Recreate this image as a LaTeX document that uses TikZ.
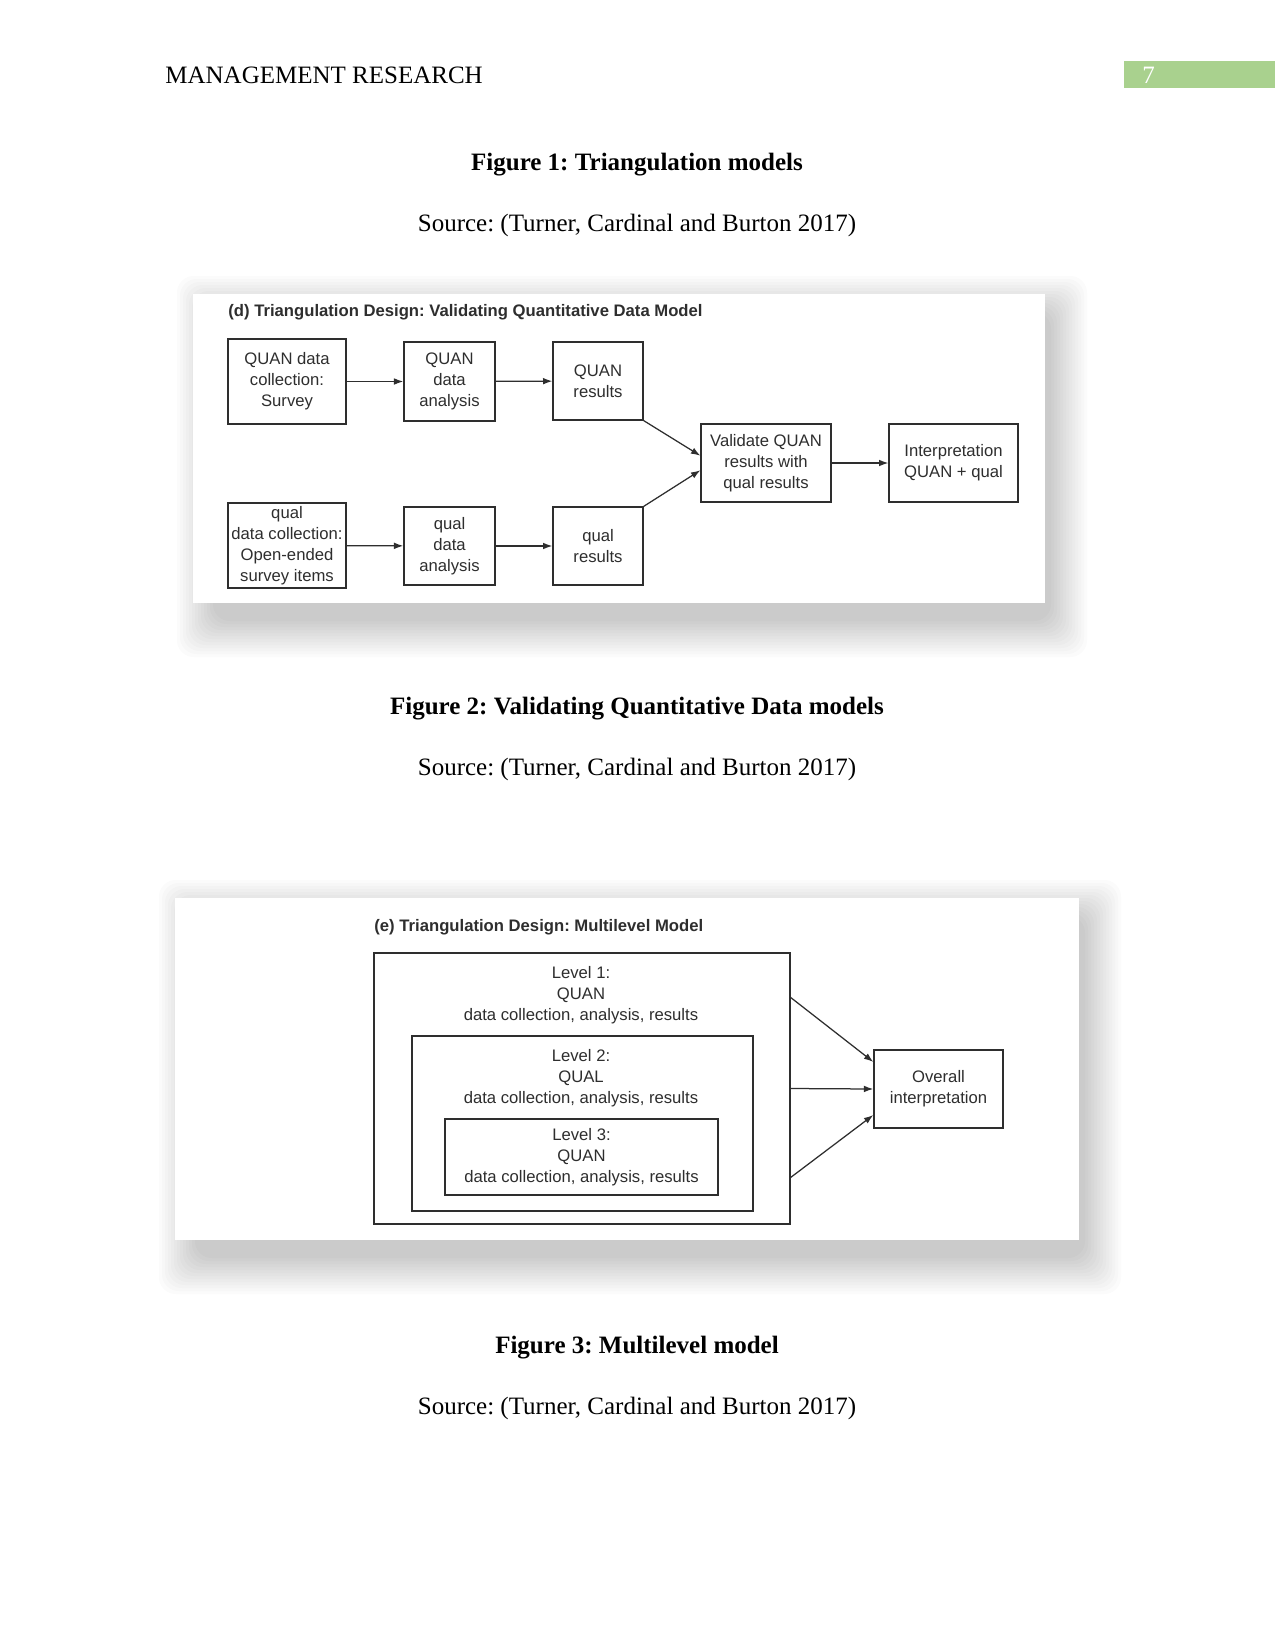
\documentclass[tikz,border=0pt]{standalone}
\usepackage{fontspec}
\setmainfont{Liberation Serif}
\newfontfamily\diagfont{Liberation Sans}
\usepackage{xcolor}
\usetikzlibrary{positioning, arrows.meta}
\definecolor{headgreen}{HTML}{A9D18E}
\definecolor{ink}{HTML}{2E2E2E}
\frenchspacing

\begin{document}
\begin{tikzpicture}[
  x=0.48pt, y=-0.48pt,
  >={Latex[length=4.5pt, width=3.2pt]},
  pagetext/.style={font=\fontsize{12}{14}\selectfont, inner sep=0pt},
  captext/.style={font=\fontsize{12}{14}\selectfont\bfseries, inner sep=0pt},
  paneltitle/.style={font=\diagfont\fontsize{8}{10}\selectfont\bfseries,
    text=ink, anchor=west, inner sep=0pt},
  stepbox/.style={draw=ink, line width=0.6pt, align=center, text=ink,
    font=\diagfont\fontsize{8}{10}\selectfont, inner sep=0pt},
  levelbox/.style={draw=ink, line width=0.6pt},
  leveltext/.style={align=center, text=ink,
    font=\diagfont\fontsize{8}{10}\selectfont, inner sep=0pt},
  arrow/.style={->, draw=ink, line width=0.6pt},
  shadelayer/.style={fill=black, opacity=0.016, rounded corners=8pt},
]
\useasboundingbox[fill=white] (0,0) rectangle (1275,1651);

% ===== PAGE HEADER =====
\node[pagetext, anchor=west] (runhead) at (165,75) {MANAGEMENT RESEARCH};
\node[fill=headgreen, minimum width=72.5pt, minimum height=13pt,
  inner sep=0pt] (pagebox) at (1199.5,74.5) {};
\node[pagetext, text=white, anchor=west] (pagenum) at (1142,75) {7};

% ===== CAPTION 1 =====
\node[captext] (cap1) at (637,165) {Figure 1: Triangulation models};
\node[pagetext] (src1) at (637,225) {Source: (Turner, Cardinal and Burton 2017)};

% ===== PANEL (d): Validating Quantitative Data Model =====
\foreach \r in {36,33,...,0}
  \fill[shadelayer] (213-\r,312-\r) rectangle (1051+\r,621+\r);
\fill[white] (193,294) rectangle (1045,603);
\node[paneltitle] (titled) at (228,312)
  {(d) Triangulation Design: Validating Quantitative Data Model};

% top row
\node[stepbox, minimum width=56.6pt, minimum height=40.8pt] (quancoll)
  at (287,381.5) {QUAN data\\collection:\\Survey};
\node[stepbox, minimum width=43.7pt, minimum height=37.9pt] (quananal)
  at (449.5,381.5) {QUAN\\data\\analysis};
\node[stepbox, minimum width=43.2pt, minimum height=37.4pt] (quanres)
  at (598,381) {QUAN\\results};

% bottom row
\node[stepbox, minimum width=56.6pt, minimum height=40.8pt] (qualcoll)
  at (287,545.5) {qual\\data collection:\\Open-ended\\survey items};
\node[stepbox, minimum width=43.7pt, minimum height=37.4pt] (qualanal)
  at (449.5,546) {qual\\data\\analysis};
\node[stepbox, minimum width=43.2pt, minimum height=37.4pt] (qualres)
  at (598,546) {qual\\results};

% merge
\node[stepbox, minimum width=62.4pt, minimum height=37.4pt] (validate)
  at (766,463) {Validate QUAN\\results with\\qual results};
\node[stepbox, minimum width=61.9pt, minimum height=37.4pt] (interp)
  at (953.5,463) {Interpretation\\QUAN + qual};

% arrows panel (d)
\draw[arrow] (quancoll) -- (quananal);
\draw[arrow] (quananal) -- (quanres);
\draw[arrow] (qualcoll) -- (qualanal);
\draw[arrow] (qualanal) -- (qualres);
\draw[arrow] (quanres.south east) -- ([yshift=3.5pt]validate.west);
\draw[arrow] (qualres.north east) -- ([yshift=-3.5pt]validate.west);
\draw[arrow] (validate) -- (interp);

% ===== CAPTION 2 =====
\node[captext] (cap2) at (637,709) {Figure 2: Validating Quantitative Data models};
\node[pagetext] (src2) at (637,769) {Source: (Turner, Cardinal and Burton 2017)};

% ===== PANEL (e): Multilevel Model =====
\foreach \r in {36,33,...,0}
  \fill[shadelayer] (195-\r,916-\r) rectangle (1085+\r,1258+\r);
\fill[white] (175,898) rectangle (1079,1240);
\node[paneltitle] (titlee) at (374,927)
  {(e) Triangulation Design: Multilevel Model};

\node[levelbox, minimum width=199.7pt, minimum height=130pt] (lvl1)
  at (582,1088.5) {};
\node[levelbox, minimum width=163.7pt, minimum height=84pt] (lvl2)
  at (582.5,1123.5) {};
\node[levelbox, minimum width=131pt, minimum height=36.5pt] (lvl3)
  at (581.5,1157) {};
\node[leveltext] (lvl1txt) at (581,995)
  {Level 1:\\QUAN\\data collection, analysis, results};
\node[leveltext] (lvl2txt) at (581,1078)
  {Level 2:\\QUAL\\data collection, analysis, results};
\node[leveltext] (lvl3txt) at (lvl3) {Level 3:\\QUAN\\data collection, analysis, results};

\node[stepbox, minimum width=62pt, minimum height=37.4pt] (overall)
  at (938.5,1089) {Overall\\interpretation};

% arrows panel (e)
\draw[arrow] ([yshift=-21.6pt]lvl1.north east) -- ([yshift=13pt]overall.west);
\draw[arrow] (lvl1.east) -- (overall.west);
\draw[arrow] ([yshift=22.6pt]lvl1.south east) -- ([yshift=-12.5pt]overall.west);

% ===== CAPTION 3 =====
\node[captext] (cap3) at (637,1348) {Figure 3: Multilevel model};
\node[pagetext] (src3) at (637,1408) {Source: (Turner, Cardinal and Burton 2017)};

\end{tikzpicture}
\end{document}
